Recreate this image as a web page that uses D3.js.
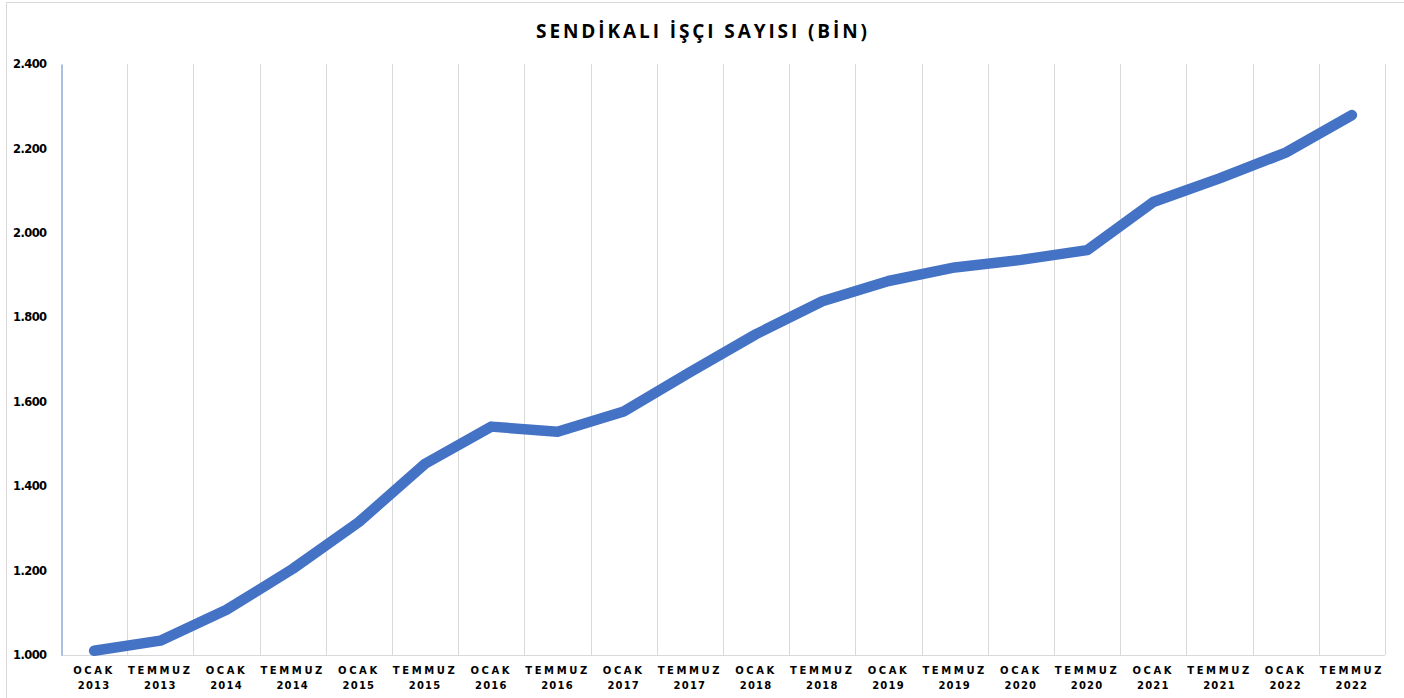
<!DOCTYPE html>
<html>
<head>
<meta charset="utf-8">
<script src="https://cdn.jsdelivr.net/npm/d3@7"></script>
<style>
  body { margin: 0; background: #fff; }
</style>
</head>
<body>
<div id="container"></div>
<script>
	// data (thousands)
	var periods = ["OCAK", "TEMMUZ", "OCAK", "TEMMUZ", "OCAK", "TEMMUZ", "OCAK", "TEMMUZ", "OCAK", "TEMMUZ",
		"OCAK", "TEMMUZ", "OCAK", "TEMMUZ", "OCAK", "TEMMUZ", "OCAK", "TEMMUZ", "OCAK", "TEMMUZ"];
	var years = ["2013", "2013", "2014", "2014", "2015", "2015", "2016", "2016", "2017", "2017",
		"2018", "2018", "2019", "2019", "2020", "2020", "2021", "2021", "2022", "2022"];
	var workers = [1010, 1034, 1107, 1204, 1315, 1453, 1541, 1529, 1577, 1670,
		1760, 1838, 1886, 1918, 1936, 1959, 2073, 2129, 2190, 2279];
	var yTicks = [1000, 1200, 1400, 1600, 1800, 2000, 2200, 2400];
	var title = "SENDİKALI İŞÇI SAYISI (BİN)";

	var width = 1404, height = 698;
	var mLeft = 61, mRight = 1385, mTop = 64, mBottom = 655;

	var svg = d3.select('#container')
		.append('svg')
		.attr('width', width)
		.attr('height', height);

	// outer chart border
	svg.append('rect')
		.attr('x', 6.5).attr('y', 2.5)
		.attr('width', 1420).attr('height', 720)
		.style('fill', 'none')
		.style('stroke', '#d9d9d9');

	var keys = d3.range(workers.length);

	var x = d3.scaleBand()
		.domain(keys)
		.range([mLeft, mRight]);

	var y = d3.scaleLinear()
		.domain([1000, 2400])
		.range([mBottom, mTop]);

	// vertical gridlines at category boundaries
	var bounds = keys.map(function(i){ return x(i); }).concat([mRight]);
	svg.selectAll('line.grid')
		.data(bounds.slice(1))
		.enter().append('line')
		.attr('class', 'grid')
		.attr('x1', function(d){ return Math.round(d) + 0.5; })
		.attr('x2', function(d){ return Math.round(d) + 0.5; })
		.attr('y1', mTop)
		.attr('y2', mBottom)
		.style('stroke', '#d9d9d9')
		.style('stroke-width', 1);

	// bottom baseline
	svg.append('line')
		.attr('x1', mLeft).attr('x2', mRight)
		.attr('y1', mBottom + 0.5).attr('y2', mBottom + 0.5)
		.style('stroke', '#d9d9d9');

	// y axis
	var fmt = function(d){ return d3.format(',')(d).replace(/,/g, '.'); };
	var yAxis = svg.append('g')
		.attr('transform', 'translate(' + (mLeft + 0.5) + ',0)')
		.call(d3.axisLeft(y).tickValues(yTicks).tickFormat(fmt).tickSize(0).tickPadding(15));
	yAxis.select('.domain')
		.style('stroke', '#8eaadb')
		.style('stroke-width', 1.5);
	yAxis.selectAll('text')
		.style('font-family', 'Tahoma, "DejaVu Sans", sans-serif')
		.style('font-size', '11.5px')
		.style('font-weight', 'bold')
		.style('letter-spacing', '-0.6px')
		.style('fill', '#000');

	// x axis labels (two lines)
	var xl = svg.selectAll('text.xl')
		.data(keys)
		.enter().append('text')
		.attr('class', 'xl')
		.attr('text-anchor', 'middle')
		.style('font-family', '"DejaVu Sans", sans-serif')
		.style('font-size', '10px')
		.style('font-weight', 'bold')
		.style('fill', '#000');
	xl.append('tspan')
		.attr('x', function(d){ return x(d) + x.bandwidth() / 2; })
		.attr('y', 674)
		.style('letter-spacing', '2.6px')
		.text(function(d){ return periods[d]; });
	xl.append('tspan')
		.attr('x', function(d){ return x(d) + x.bandwidth() / 2; })
		.attr('y', 689)
		.style('letter-spacing', '1.2px')
		.text(function(d){ return years[d]; });

	// the line
	var line = d3.line()
		.x(function(d, i){ return x(i) + x.bandwidth() / 2; })
		.y(function(d){ return y(d); });

	svg.append('path')
		.datum(workers)
		.attr('d', line)
		.style('fill', 'none')
		.style('stroke', '#4472c4')
		.style('stroke-width', 10.5)
		.style('stroke-linejoin', 'round')
		.style('stroke-linecap', 'round');

	// title
	svg.append('text')
		.attr('x', 703)
		.attr('y', 38)
		.attr('text-anchor', 'middle')
		.style('font-family', '"Open Sans", sans-serif')
		.style('font-size', '19px')
		.style('font-weight', 'bold')
		.style('letter-spacing', '2.9px')
		.style('fill', '#000')
		.text(title);
</script>
</body>
</html>
